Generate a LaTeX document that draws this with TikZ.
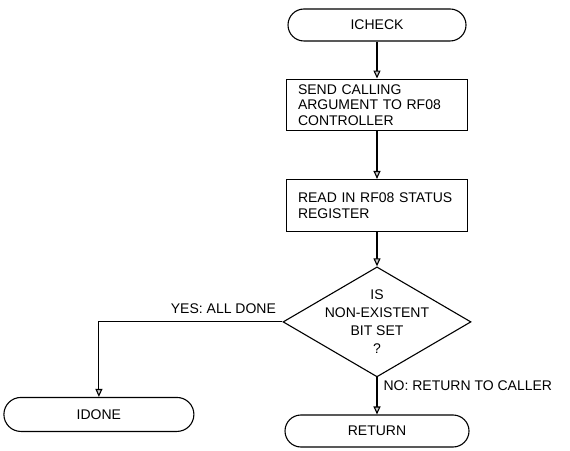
\documentclass[tikz,border=0pt]{standalone}
\usepackage{fontspec}
\setmainfont{Liberation Sans}
\usepackage{tikz}
\usetikzlibrary{shapes.geometric, arrows.meta, positioning}

\begin{document}
\begin{tikzpicture}[
    x=1pt, y=1pt,
    every node/.style={font=\fontsize{14}{15.5}\selectfont},
    terminal/.style={rectangle, draw, rounded corners=16pt, minimum width=178pt, minimum height=32pt, line width=1.1pt},
    process/.style={rectangle, draw, text width=158pt, align=left, inner xsep=11.5pt, minimum height=51pt, line width=1.4pt},
    decision/.style={diamond, draw, minimum width=188pt, minimum height=110pt, inner sep=0pt, line width=1.1pt},
    flow/.style={draw, line width=1.1pt, -{Triangle[width=7pt,length=8pt,fill=gray!40]}}
]
\useasboundingbox (0,0) rectangle (570,450);
\node[terminal] (icheck) at (377,425) {ICHECK};
\node[process, below=37pt of icheck] (send) {SEND CALLING\\ARGUMENT TO RF08\\CONTROLLER};
\node[process, below=48pt of send, minimum height=52pt] (read) {READ IN RF08 STATUS\\REGISTER};
\node[decision, below=34pt of read] (check) {};
\node[align=center, font=\fontsize{14}{18}\selectfont] (checktext) at (check) {IS\\NON-EXISTENT\\BIT SET\\?};
\node[terminal, below=37pt of check, minimum width=184pt] (ret) {RETURN};
\node[terminal, below left=75pt and 88pt of check.west, minimum width=190pt, minimum height=34pt, rounded corners=17pt] (idone) {IDONE};
\node[anchor=south east, xshift=-3pt, yshift=5pt] (yes) at (check.west) {YES: ALL DONE};
\node[anchor=west] (no) at ([shift={(3pt,-8pt)}]check.south) {NO: RETURN TO CALLER};
\draw[flow] (icheck) -- (send);
\draw[flow] (send) -- (read);
\draw[flow] (read) -- (check);
\draw[flow] (check) -- (ret);
\draw[flow] (check.west) -| (idone);
\end{tikzpicture}
\end{document}
